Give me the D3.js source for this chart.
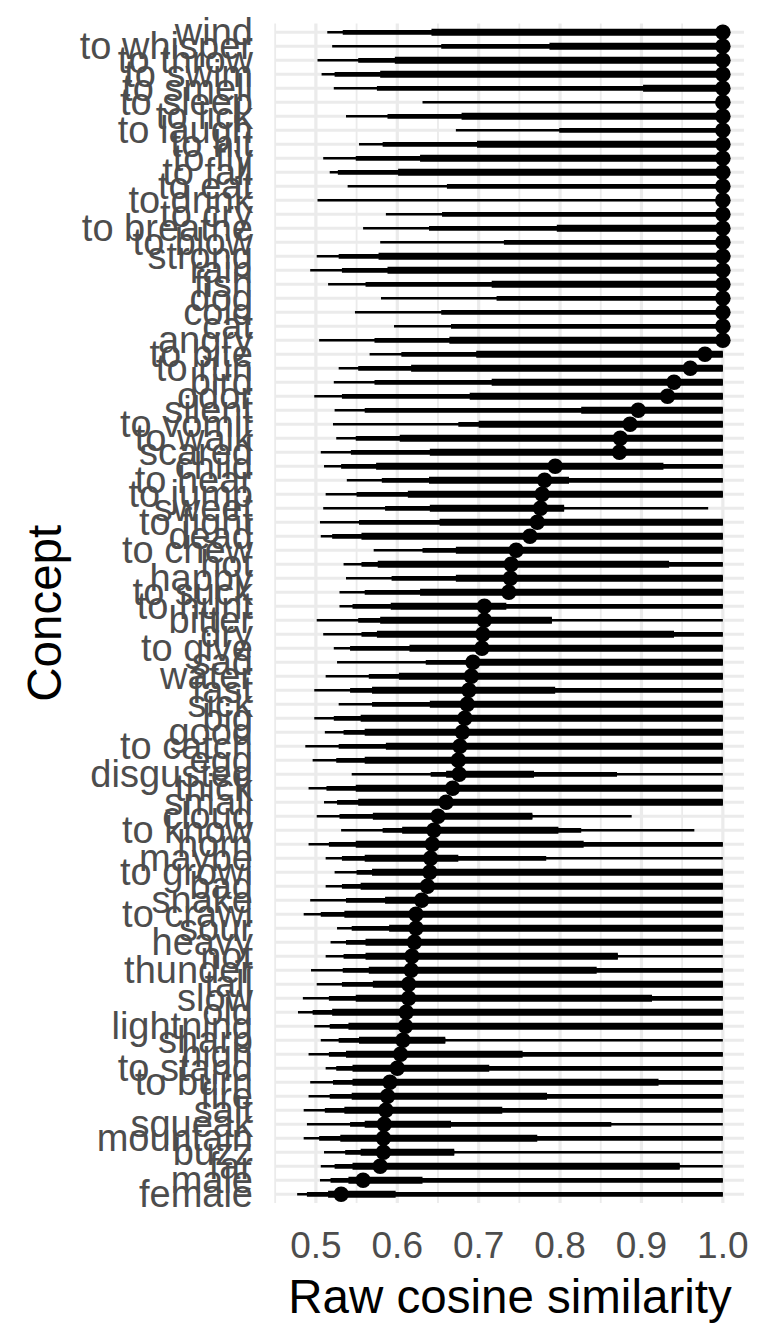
<!DOCTYPE html>
<html>
<head>
<meta charset="utf-8">
<script src="https://cdn.jsdelivr.net/npm/d3@7"></script>
<style>
  body { margin: 0; background: #fff; }
  svg { display: block; font-family: "Liberation Sans", Arial, sans-serif; }
</style>
</head>
<body>
<svg id="chart" width="768" height="1344"></svg>
<script>
var concepts = ['wind', 'to whisper', 'to throw', 'to swim', 'to smell', 'to sleep', 'to lick', 'to laugh',
  'to hit', 'to fly', 'to fall', 'to eat', 'to drink', 'to cry', 'to breathe', 'to blow', 'strong', 'rain',
  'fish', 'dog', 'cold', 'cat', 'angry', 'to bite', 'to run', 'bird', 'odor', 'silent', 'to vomit', 'to walk',
  'scared', 'child', 'to hear', 'to jump', 'sweet', 'to fight', 'dead', 'to chew', 'hot', 'happy', 'to suck',
  'to hunt', 'bitter', 'dry', 'to give', 'sad', 'water', 'fast', 'sick', 'big', 'good', 'to catch', 'egg',
  'disgusted', 'thick', 'small', 'cloud', 'to know', 'horn', 'maybe', 'to growl', 'bad', 'snake', 'to crawl',
  'sour', 'heavy', 'not', 'thunder', 'tall', 'slow', 'old', 'lightning', 'sharp', 'high', 'to stand',
  'to burn', 'fire', 'salt', 'squeak', 'mountain', 'buzz', 'far', 'male', 'female'];

var median = [1, 1, 1, 1, 1, 1, 1, 1, 1, 1, 1, 1, 1, 1, 1, 1, 1, 1, 1, 1, 1, 1, 1, .978, .960, .940, .932, .896,
  .886, .874, .873, .794, .781, .778, .776, .772, .763, .746, .740, .739, .737, .707, .707, .705, .704, .693,
  .691, .688, .686, .683, .680, .677, .675, .676, .668, .660, .650, .645, .643, .641, .640, .637, .630, .623,
  .623, .621, .618, .617, .614, .614, .611, .610, .607, .604, .600, .591, .588, .586, .584, .583, .583, .579,
  .558, .531];

var lo95 = [.514, .520, .502, .507, .522, .631, .537, .672, .553, .509, .517, .539, .502, .586, .558, .579, .501,
  .493, .515, .580, .548, .596, .504, .566, .528, .522, .498, .523, .521, .525, .506, .510, .538, .512, .509,
  .505, .506, .571, .534, .537, .529, .529, .501, .509, .522, .526, .512, .498, .528, .498, .511, .487, .496,
  .544, .491, .510, .501, .531, .491, .512, .523, .512, .493, .485, .526, .518, .512, .494, .501, .484, .478,
  .498, .506, .491, .512, .493, .491, .485, .489, .485, .510, .506, .505, .477];

var lo80 = [.533, .654, .552, .523, .575, 1, .588, .799, .582, .549, .527, .661, 1, .655, .639, .731, .528, .532,
  .561, .722, .654, .666, .572, .605, .552, .572, .532, .560, .675, .549, .543, .531, .581, .550, .585, .553,
  .520, .631, .556, .593, .560, .545, .552, .556, .542, .635, .565, .542, .569, .522, .534, .528, .525, .641,
  .513, .526, .529, .582, .516, .532, .550, .532, .537, .506, .544, .537, .534, .533, .532, .516, .496, .517,
  .528, .516, .525, .521, .517, .511, .542, .504, .536, .523, .518, .489];

var lo50 = [.642, .787, .597, .579, .902, 1, .679, 1, .698, .628, .601, 1, 1, 1, .796, 1, .577, .588, .716, 1, 1,
  1, .664, .697, .617, .716, .689, .826, .700, .603, .640, .574, .639, .613, .640, .652, .556, .672, .576, .672,
  .628, .592, .579, .575, .615, .686, .602, .569, .640, .555, .560, .586, .560, .660, .549, .552, .570, .606,
  .549, .560, .569, .555, .585, .535, .590, .561, .561, .565, .570, .549, .520, .540, .553, .537, .545, .545,
  .544, .535, .560, .530, .555, .545, .540, .515];

var hi50 = [1, 1, 1, 1, 1, 1, 1, 1, 1, 1, 1, 1, 1, 1, 1, 1, 1, 1, 1, 1, 1, 1, 1, 1, 1, 1, 1, 1, 1, 1, 1, .927,
  .811, 1, .805, 1, 1, 1, .934, 1, 1, .734, .790, .940, 1, 1, 1, .794, 1, 1, 1, 1, 1, .768, 1, 1, .766, .798,
  .829, .675, 1, 1, 1, 1, 1, 1, .871, .845, 1, .913, 1, 1, .659, .754, .713, .921, .784, .729, .666, .772,
  .670, .947, .631, .598];

var hi80 = [1, 1, 1, 1, 1, 1, 1, 1, 1, 1, 1, 1, 1, 1, 1, 1, 1, 1, 1, 1, 1, 1, 1, 1, 1, 1, 1, 1, 1, 1, 1, 1,
  1, 1, .805, 1, 1, 1, 1, 1, 1, 1, .790, 1, 1, 1, 1, 1, 1, 1, 1, 1, 1, .870, 1, 1, .766, .826, 1, .783, 1, 1,
  1, 1, 1, 1, .871, 1, 1, 1, 1, 1, .659, 1, 1, 1, 1, 1, .863, 1, .670, .947, 1, 1];

var hi95 = [1, 1, 1, 1, 1, 1, 1, 1, 1, 1, 1, 1, 1, 1, 1, 1, 1, 1, 1, 1, 1, 1, 1, 1, 1, 1, 1, 1, 1, 1, 1, 1,
  1, 1, .982, 1, 1, 1, 1, 1, 1, 1, 1, 1, 1, 1, 1, 1, 1, 1, 1, 1, 1, 1, 1, 1, .888, .965, 1, 1, 1, 1, 1, 1, 1,
  1, 1, 1, 1, 1, 1, 1, 1, 1, 1, 1, 1, 1, 1, 1, 1, 1, 1, 1];

var xTicks = [0.5, 0.6, 0.7, 0.8, 0.9, 1.0];
var xMinor = [0.45, 0.55, 0.65, 0.75, 0.85, 0.95];

var rows = concepts.map(function (c, i) {
  return {
    name: c, median: median[i],
    intervals: [
      { lo: lo95[i], hi: hi95[i], w: 2.6 },
      { lo: lo80[i], hi: hi80[i], w: 4.7 },
      { lo: lo50[i], hi: hi50[i], w: 7 }
    ]
  };
});

var panel = { left: 276, right: 744, top: 23.5, bottom: 1203 };

var x = d3.scaleLinear().domain([0.451, 1.026]).range([panel.left, panel.right]);
var y = d3.scalePoint().domain(d3.range(concepts.length)).range([32.3, 1194.3]);

var svg = d3.select('#chart');

var grid = svg.append('g').attr('class', 'grid');
grid.selectAll('line.minor')
  .data(xMinor)
  .enter()
  .append('line')
  .attr('class', 'minor')
  .attr('x1', function (d) { return x(d); })
  .attr('x2', function (d) { return x(d); })
  .attr('y1', panel.top).attr('y2', panel.bottom)
  .attr('stroke', '#EBEBEB').attr('stroke-width', 1.8);
grid.selectAll('line.major-x')
  .data(xTicks)
  .enter()
  .append('line')
  .attr('class', 'major-x')
  .attr('x1', function (d) { return x(d); })
  .attr('x2', function (d) { return x(d); })
  .attr('y1', panel.top).attr('y2', panel.bottom)
  .attr('stroke', '#EBEBEB').attr('stroke-width', 3.2);
grid.selectAll('line.major-y')
  .data(d3.range(concepts.length))
  .enter()
  .append('line')
  .attr('class', 'major-y')
  .attr('x1', panel.left).attr('x2', panel.right)
  .attr('y1', function (d) { return y(d); })
  .attr('y2', function (d) { return y(d); })
  .attr('stroke', '#EBEBEB').attr('stroke-width', 3);

var marks = svg.append('g').attr('class', 'marks');
var rowG = marks.selectAll('g.row')
  .data(rows)
  .enter()
  .append('g')
  .attr('class', 'row')
  .attr('transform', function (d, i) { return 'translate(0,' + y(i) + ')'; });

rowG.selectAll('line')
  .data(function (d) { return d.intervals.filter(function (iv) { return iv.hi > iv.lo; }); })
  .enter()
  .append('line')
  .attr('x1', function (d) { return x(d.lo); })
  .attr('x2', function (d) { return x(d.hi); })
  .attr('y1', 0).attr('y2', 0)
  .attr('stroke', '#000')
  .attr('stroke-width', function (d) { return d.w; });

rowG.append('circle')
  .attr('cx', function (d) { return x(d.median); })
  .attr('cy', 0)
  .attr('r', 7.8)
  .attr('fill', '#000');

// axis labels
svg.append('g').attr('class', 'y-labels')
  .selectAll('text')
  .data(concepts)
  .enter()
  .append('text')
  .attr('x', 253)
  .attr('y', function (d, i) { return y(i); })
  .attr('dy', '0.34em')
  .attr('text-anchor', 'end')
  .attr('font-size', 38)
  .attr('fill', '#4D4D4D')
  .text(function (d) { return d; });

svg.append('g').attr('class', 'x-labels')
  .selectAll('text')
  .data(xTicks)
  .enter()
  .append('text')
  .attr('x', function (d) { return x(d); })
  .attr('y', 1258)
  .attr('text-anchor', 'middle')
  .attr('font-size', 37)
  .attr('fill', '#4D4D4D')
  .text(function (d) { return d3.format('.1f')(d); });

svg.append('text')
  .attr('x', (panel.left + panel.right) / 2)
  .attr('y', 1313)
  .attr('text-anchor', 'middle')
  .attr('font-size', 47.5)
  .attr('fill', '#000')
  .text('Raw cosine similarity');

svg.append('text')
  .attr('transform', 'translate(61,' + ((panel.top + panel.bottom) / 2) + ') rotate(-90)')
  .attr('text-anchor', 'middle')
  .attr('font-size', 47.5)
  .attr('fill', '#000')
  .text('Concept');
</script>
</body>
</html>
